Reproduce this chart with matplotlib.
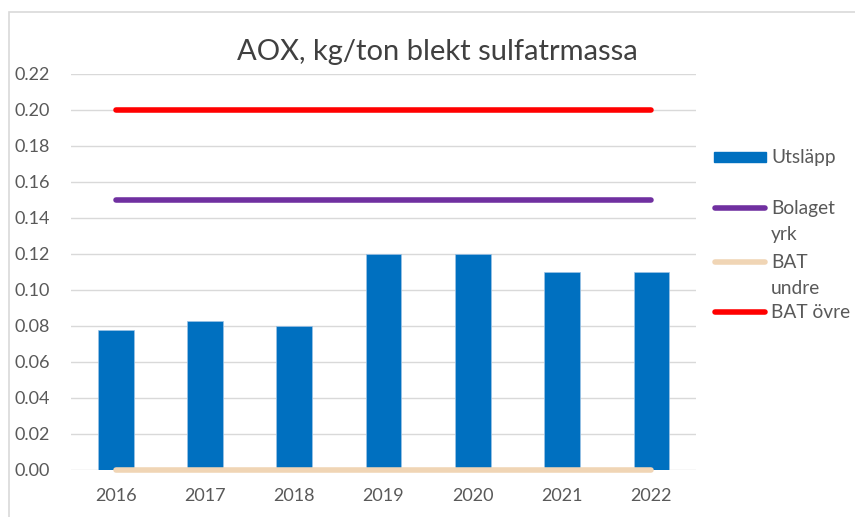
import matplotlib.pyplot as plt
from matplotlib.lines import Line2D
from matplotlib.patches import Rectangle

years = ["2016", "2017", "2018", "2019", "2020", "2021", "2022"]
utslapp = [0.078, 0.083, 0.080, 0.120, 0.120, 0.110, 0.110]
bolaget_yrk = [0.15] * 7
bat_undre = [0.0] * 7
bat_ovre = [0.20] * 7
yticks = [0.00, 0.02, 0.04, 0.06, 0.08, 0.10, 0.12, 0.14, 0.16, 0.18, 0.20, 0.22]

series_names = ["Utsläpp", "Bolaget\nyrk", "BAT\nundre", "BAT övre"]
colors = ["#0070C0", "#7030A0", "#F0D5B5", "#FF0000"]
gray = "#595959"

plt.rcParams["font.family"] = ["Lato", "DejaVu Sans"]

fig = plt.figure(figsize=(8.55, 5.17), dpi=100)
fig.add_artist(Rectangle((9 / 855, -0.1), 1.2, 1 - 12 / 517 + 0.1,
                         transform=fig.transFigure, fill=False,
                         edgecolor="#D9D9D9", linewidth=1.2))

ax = fig.add_axes([71 / 855, 1 - 470 / 517, (696 - 71) / 855, (470 - 74) / 517])
x = list(range(len(years)))

ax.bar(x, utslapp, width=0.4, color=colors[0], edgecolor="#9DC3E6",
       linewidth=0.5, zorder=2)
for vals, c in zip([bolaget_yrk, bat_undre, bat_ovre], colors[1:]):
    ax.plot(x, vals, color=c, linewidth=4, solid_capstyle="round",
            zorder=3, clip_on=False)

ax.set_xlim(-0.5, len(years) - 0.5)
ax.set_ylim(0, 0.22)
ax.set_yticks(yticks)
ax.set_yticklabels([f"{v:.2f}" for v in yticks])
ax.set_xticks(x)
ax.set_xticklabels(years)
ax.grid(axis="y", color="#D9D9D9", linewidth=1, zorder=0)
ax.set_axisbelow(True)
for s in ax.spines.values():
    s.set_visible(False)
ax.tick_params(axis="both", length=0, labelsize=13, colors=gray)
ax.tick_params(axis="y", pad=15)
ax.tick_params(axis="x", pad=13)

fig.text(437 / 855, 1 - 52 / 517, "AOX, kg/ton blekt sulfatrmassa",
         ha="center", va="center", fontsize=21, color="#404040")

# legend drawn by hand so the handle sits on the first text line
leg_y = [157, 208, 262, 312]
for i, (name, c, yy) in enumerate(zip(series_names, colors, leg_y)):
    yf = 1 - yy / 517
    if i == 0:
        fig.add_artist(Rectangle((714 / 855, yf - 5 / 517), 52 / 855, 10 / 517,
                                 transform=fig.transFigure, color=c))
    else:
        fig.add_artist(Line2D([715 / 855, 765 / 855], [yf, yf],
                              transform=fig.transFigure, color=c,
                              linewidth=4, solid_capstyle="round"))
    fig.text(771 / 855, yf + 8 / 517, name, ha="left", va="top",
             fontsize=13.8, color=gray, linespacing=1.65)

fig.savefig("out.png", dpi=100)
